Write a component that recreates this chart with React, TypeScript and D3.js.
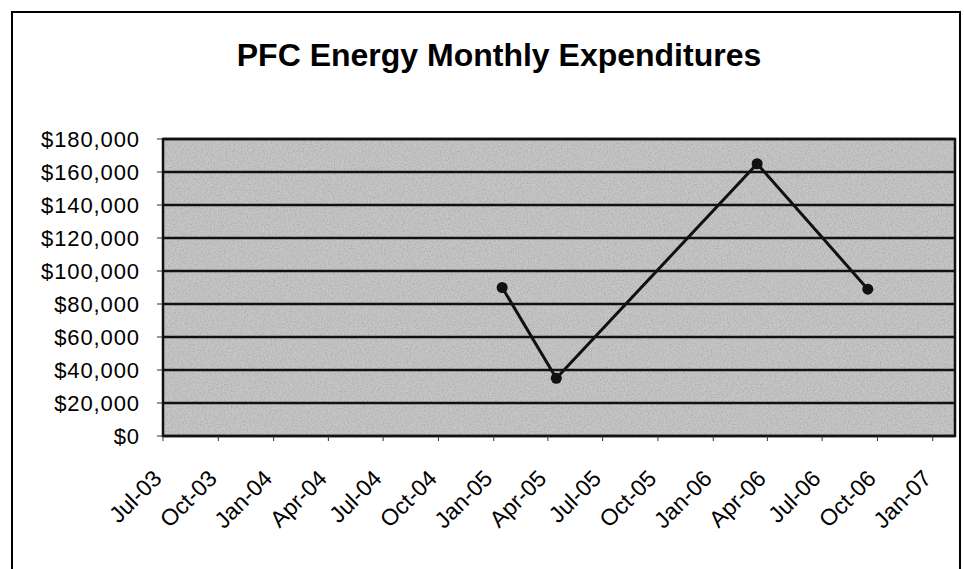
import React from 'react';
import * as d3 from 'd3';

const title = 'PFC Energy Monthly Expenditures';
// dates of the readings and the money spent
const dates = ['2005-01-15', '2005-04-15', '2006-03-15', '2006-09-15'];
const spend = [90000, 35000, 165000, 89000];
const yTicks = [0, 20000, 40000, 60000, 80000, 100000, 120000, 140000, 160000, 180000];
const xTickLabels = ['Jul-03', 'Oct-03', 'Jan-04', 'Apr-04', 'Jul-04', 'Oct-04', 'Jan-05', 'Apr-05',
  'Jul-05', 'Oct-05', 'Jan-06', 'Apr-06', 'Jul-06', 'Oct-06', 'Jan-07'];

const W = 964, H = 569;
const margin = { top: 139, right: 9, bottom: 133, left: 163 };

export default function App() {
  const parse = d3.timeParse('%Y-%m-%d');
  const x = d3.scaleTime()
    .domain([new Date(2003, 6, 1), new Date(2007, 1, 7)])
    .range([margin.left, W - margin.right]);
  const y = d3.scaleLinear().domain([0, 180000]).range([H - margin.bottom, margin.top]);
  const tickDates = xTickLabels.map(s => d3.timeParse('%b-%y')(s) as Date);
  const pts = dates.map((d, i) => ({ date: parse(d) as Date, v: spend[i] }));
  const line = d3.line<{ date: Date; v: number }>().x(d => x(d.date)).y(d => y(d.v));
  const fmt = (v: number) => '$' + d3.format(',')(v);
  const font = 'Arial, "Liberation Sans", sans-serif';
  const y0 = y(0);
  const pw = W - margin.right - margin.left;

  return (
    <svg width={W} height={H} style={{ position: 'absolute', left: 0, top: 0, background: '#fff' }}>
      <defs>
        <filter id="grain" x="0" y="0" width="100%" height="100%">
          <feTurbulence type="fractalNoise" baseFrequency="0.7" numOctaves="2" seed="3" />
          <feColorMatrix type="matrix" values="0 0 0 0 0.35  0 0 0 0 0.35  0 0 0 0 0.35  1.4 0 0 0 -0.55" />
          <feComposite in2="SourceGraphic" operator="in" />
        </filter>
      </defs>
      <rect x={12} y={12} width={948} height={600} fill="#fff" stroke="#000" strokeWidth={2} />
      <text x={499} y={66} textAnchor="middle" fontFamily={font} fontWeight="bold" fontSize={32}>{title}</text>

      <rect x={margin.left} y={margin.top} width={pw} height={y0 - margin.top} fill="#c6c6c6" />
      <rect x={margin.left} y={margin.top} width={pw} height={y0 - margin.top} fill="#fff" filter="url(#grain)" />

      {yTicks.map(t => (
        <g key={t}>
          <line x1={margin.left} x2={W - margin.right} y1={y(t)} y2={y(t)} stroke="#111" strokeWidth={2.5} />
          <line x1={margin.left - 6} x2={margin.left} y1={y(t)} y2={y(t)} stroke="#333" strokeWidth={1} />
          <text x={140} y={y(t)} dy="0.35em" textAnchor="end" fontFamily={font} fontSize={22}
            letterSpacing={0.9}>{fmt(t)}</text>
        </g>
      ))}
      <rect x={margin.left} y={margin.top} width={pw} height={y0 - margin.top}
        fill="none" stroke="#111" strokeWidth={2.5} />

      {tickDates.map((d, i) => (
        <g key={i} transform={`translate(${x(d)},${y0})`}>
          <line y1={0} y2={5} stroke="#333" strokeWidth={1} />
          <text transform="translate(0,44) rotate(-45)" textAnchor="end" fontFamily={font} fontSize={23}>{xTickLabels[i]}</text>
        </g>
      ))}

      <path d={line(pts) || ''} fill="none" stroke="#111" strokeWidth={3} />
      {pts.map((p, i) => (
        <circle key={i} cx={x(p.date)} cy={y(p.v)} r={5.5} fill="#111" />
      ))}
    </svg>
  );
}
